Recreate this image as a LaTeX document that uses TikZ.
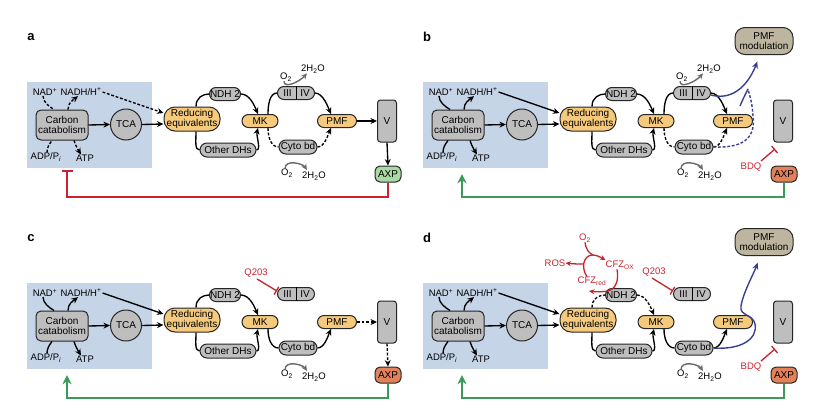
\documentclass[tikz,border=0pt]{standalone}
\usepackage{fontspec}
\setmainfont{Liberation Sans}
\usetikzlibrary{arrows.meta}
\definecolor{boxblue}{HTML}{C5D4E7}
\definecolor{nodegrey}{HTML}{BEBEBE}
\definecolor{nodeorange}{HTML}{F6CA7C}
\definecolor{axpgreen}{HTML}{A9D9A4}
\definecolor{axporange}{HTML}{E2825A}
\definecolor{modtan}{HTML}{BDB59F}
\definecolor{myred}{HTML}{C8232F}
\definecolor{mygreen}{HTML}{3C9A58}
\definecolor{myblue}{HTML}{383F96}
\definecolor{o2grey}{HTML}{6A6A6A}
\newcommand\nf{\fontsize{10}{10.5}\selectfont}
\newcommand\lf{\fontsize{9.5}{10}\selectfont}
\tikzset{
  base/.style={draw=black!85, line width=1pt, font=\nf, inner sep=0pt, align=center},
  gnode/.style={base, fill=nodegrey},
  onode/.style={base, fill=nodeorange},
  pill/.style={rounded corners=6.5pt, minimum height=13pt},
  lab/.style={font=\lf, inner sep=0pt},
  rlab/.style={lab, text=myred},
  arr/.style={-{Stealth[length=6.5pt,width=6pt]}, line width=1.35pt},
  plain/.style={line width=1.35pt},
  dsh/.style={dash pattern=on 2.8pt off 1.8pt},
  csty/.style={}, ndsty/.style={}, bdsty/.style={},
  axpsty/.style={fill=axporange},
  garr/.style={-{Stealth[length=6pt,width=5.5pt]}, line width=1.4pt, draw=o2grey},
  redT/.style={draw=myred, line width=1.3pt, -{Bar[width=9pt,line width=1.3pt]}},
  redarr/.style={draw=myred, line width=1.3pt, -{Stealth[length=5.5pt,width=5pt]}},
  redln/.style={draw=myred, line width=1.3pt},
  fbg/.style={draw=mygreen, line width=2.5pt, -{Stealth[length=9pt,width=9pt]}},
  fbr/.style={draw=myred, line width=2.5pt, -{Bar[width=11pt,line width=2.5pt]}},
  bluearr/.style={draw=myblue, line width=1.4pt, -{Stealth[length=7pt,width=6pt]}},
  blueln/.style={draw=myblue, line width=1.4pt},
  panlab/.style={font=\bfseries\fontsize{13}{13}\selectfont, inner sep=0pt},
}
\newcommand\commonpanel{%
  \node[fill=boxblue, minimum width=125pt, minimum height=86pt, inner sep=0pt] (bb) at (89.5,125) {};
  \node[gnode, rounded corners=5pt, minimum width=52pt, minimum height=30pt] (cc) at (62,125) {Carbon\\catabolism};
  \node[gnode, circle, minimum size=31pt] (tca) at (126,124.5) {TCA};
  \node[onode, rounded corners=11pt, minimum width=56pt, minimum height=24pt] (re) at (192,119) {Reducing\\equivalents};
  \node[gnode, pill, minimum width=31pt] (ndh) at (225,94) {NDH 2};
  \node[gnode, pill, minimum width=56pt, minimum height=14pt, rounded corners=7pt] (odh) at (228,150) {Other DHs};
  \node[onode, pill, minimum width=36pt] (mk) at (260,121) {MK};
  \node[gnode, pill, minimum width=37pt] (cx) at (296,93) {};
  \node[lab, font=\nf] (c3) at (287.5,93) {III};
  \node[lab, font=\nf] (c4) at (305,93) {IV};
  \draw[line width=1pt] (cx.north) -- (cx.south);
  \node[onode, pill, minimum width=39pt] (pmf) at (337,121) {PMF};
  \node[gnode, pill, minimum width=38pt, minimum height=14pt, rounded corners=7pt] (cyto) at (298,147) {Cyto bd};
  \node[gnode, rounded corners=3pt, minimum width=19pt, minimum height=42pt] (v) at (387,121) {V};
  \node[base, axpsty, rounded corners=5pt, minimum width=26pt, minimum height=16pt] (axp) at (388,174) {AXP};
  \node[lab] (nad) at (45,92) {NAD\textsuperscript{+}};
  \node[lab] (nadh) at (81,92) {NADH/H\textsuperscript{+}};
  \node[lab] (adp) at (46,157) {ADP/P\textsubscript{\textit{i}}};
  \node[lab] (atp) at (85,158) {ATP};
  \node[lab] (o2b) at (287,173) {O\textsubscript{2}};
  \node[lab] (h2ob) at (314,176) {2H\textsubscript{2}O};
  % carbon side
  \draw[plain, csty] ([xshift=-2pt]nad.south) .. controls +(0,6) and +(-5,-3) .. ([xshift=-8pt]cc.north);
  \draw[arr, csty] ([xshift=6pt]cc.north) .. controls +(0,-7) and +(-5,4) .. ([xshift=-3pt]nadh.south);
  \draw[plain, csty] ([xshift=1pt]adp.north) .. controls +(0,-5) and +(-3,4) .. ([xshift=-10pt]cc.south);
  \draw[arr, csty] ([xshift=12pt]cc.south) .. controls +(2,6) and +(-3,-5) .. ([xshift=-4pt]atp.north);
  \draw[arr, csty] ([xshift=1pt]nadh.east) -- ([yshift=6pt]re.west);
  \draw[arr] (cc.east) -- (tca.west);
  \draw[arr] (tca.east) -- ([yshift=-5pt]re.west);
  % respiratory chain
  \draw[plain, ndsty] ([xshift=4pt]re.north) .. controls +(0,-9) and +(-6,0) .. (ndh.west);
  \draw[arr, ndsty] (ndh.east) .. controls +(9,0) and +(-3,-7) .. ([xshift=-2pt]mk.north);
  \draw[plain] ([xshift=4pt]re.south) .. controls +(0,9) and +(-5,0) .. (odh.west);
  \draw[arr] (odh.east) .. controls +(5,0) and +(-2,8) .. ([xshift=-2pt]mk.south);
  \draw[plain, bdsty] ([xshift=8pt]mk.south) .. controls +(0,10) and +(-7,0) .. (cyto.west);
  \draw[arr, bdsty] (cyto.east) .. controls +(7,0) and +(-3,7) .. ([xshift=-6pt]pmf.south);
  \draw[garr, shorten >=2pt] ([xshift=-2pt]o2b.north) .. controls +(0,-10) and +(-5,-8) .. ([xshift=-6pt]h2ob.north);
}
\newcommand\complexarrows{%
  \node[lab] (o2t) at (286,77) {O\textsubscript{2}};
  \node[lab] (h2ot) at (313,69) {2H\textsubscript{2}O};
  \draw[garr] ([xshift=-2pt]o2t.south) .. controls +(0,8) and +(-7,8) .. ([xshift=-6pt]h2ot.south);
  \draw[plain] ([xshift=8pt]mk.north) .. controls +(0,-10) and +(-7,0) .. (cx.west);
  \draw[arr] (cx.east) .. controls +(8,0) and +(-3,-7) .. ([xshift=-6pt]pmf.north);
}
\begin{document}
\begin{tikzpicture}[x=1pt,y=-1pt]
\useasboundingbox (0,0) rectangle (813,407);
\fill[white] (0,0) rectangle (813,407);

% ---------- panel a ----------
\begin{scope}[name prefix=a-, csty/.style={dsh}, bdsty/.style={dsh}, axpsty/.style={fill=axpgreen}]
  \node[panlab] (lab) at (31,37) {a};
  \commonpanel
  \complexarrows
  \draw[arr] (pmf.east) -- (v.west);
  \draw[arr] (v.south) -- (axp.north);
  \coordinate (fb) at (67,197);
  \draw[fbr, shorten >=1.5pt] (axp.south) |- (fb) -- (fb |- bb.south);
\end{scope}

% ---------- panel b ----------
\begin{scope}[shift={(396,0)}, name prefix=b-, bdsty/.style={dsh}]
  \node[panlab] (lab) at (31,37) {b};
  \commonpanel
  \complexarrows
  \node[base, fill=modtan, rounded corners=10pt, minimum width=58pt, minimum height=27pt] (pm) at (368,41) {PMF\\modulation};
  \coordinate (j1) at (344,106);
  \coordinate (j2) at (352,89);
  \draw[bluearr, shorten >=7pt] ([yshift=-2pt]cx.east) .. controls (333,100) and (350,90) .. ([xshift=-4pt]pm.south);
  \draw[blueln] (j1) .. controls (347,99) .. (j2);
  \draw[blueln, dsh] (cyto.east) .. controls (345,148) and (360,140) .. (357,116) .. controls (356,104) .. (j2);
  \node[rlab] (bdq) at (355,167) {BDQ};
  \draw[redT] (365,161) -- (379,149);
  \coordinate (fb) at (66,197);
  \draw[fbg, shorten >=6pt] (axp.south) |- (fb) -- (fb |- bb.south);
\end{scope}

% ---------- panel c ----------
\begin{scope}[shift={(0,201)}, name prefix=c-]
  \node[panlab] (lab) at (31,37) {c};
  \commonpanel
  \draw[arr, dsh] (pmf.east) -- (v.west);
  \draw[arr, dsh] (v.south) -- (axp.north);
  \node[rlab] (q) at (256,72) {Q203};
  \draw[redT] (257,78) -- ([yshift=3pt]cx.west);
  \coordinate (fb) at (67,197);
  \draw[fbg, shorten >=6pt] (axp.south) |- (fb) -- (fb |- bb.south);
\end{scope}

% ---------- panel d ----------
\begin{scope}[shift={(396,201)}, name prefix=d-, ndsty/.style={dsh}]
  \node[panlab] (lab) at (31,37) {d};
  \commonpanel
  \node[base, fill=modtan, rounded corners=10pt, minimum width=58pt, minimum height=27pt] (pm) at (368,41) {PMF\\modulation};
  \draw[bluearr, shorten >=7pt] (cyto.east) .. controls (345,149) and (362,138) .. (359,123) .. controls (357,113) and (343,115) .. (345,105) .. controls (347,92) and (358,72) .. ([xshift=-4pt]pm.south);
  \node[rlab] (q) at (258,71) {Q203};
  \draw[redT] (256,77) -- ([yshift=3pt]cx.west);
  \node[rlab] (bdq) at (355,166) {BDQ};
  \draw[redT] (365,160) -- (379,148);
  % CFZ cycle
  \node[rlab] (o2r) at (189,37) {O\textsubscript{2}};
  \node[rlab] (ros) at (159,62) {ROS};
  \node[rlab] (cfzox) at (224,64) {CFZ\textsubscript{OX}};
  \node[rlab] (cfzred) at (196,80) {CFZ\textsubscript{red}};
  \coordinate (ct) at (193,90);
  \draw[redarr] ([xshift=-5pt]cfzred.north) .. controls (185,67) and (187,55) .. (196,54) .. controls (201,54) and (204,56) .. ([yshift=5pt]cfzox.west);
  \draw[redln] (o2r.south) .. controls (190,49) and (193,52) .. (197,54);
  \draw[redarr] (187,63) .. controls (183,63) and (178,63) .. (ros.east);
  \draw[redarr] ([xshift=-3pt]cfzox.south) .. controls (223,79) and (220,88) .. (212,90) .. controls (206,91) and (200,91) .. (ct);
  \coordinate (fb) at (66,197);
  \draw[fbg, shorten >=6pt] (axp.south) |- (fb) -- (fb |- bb.south);
\end{scope}
\end{tikzpicture}
\end{document}
